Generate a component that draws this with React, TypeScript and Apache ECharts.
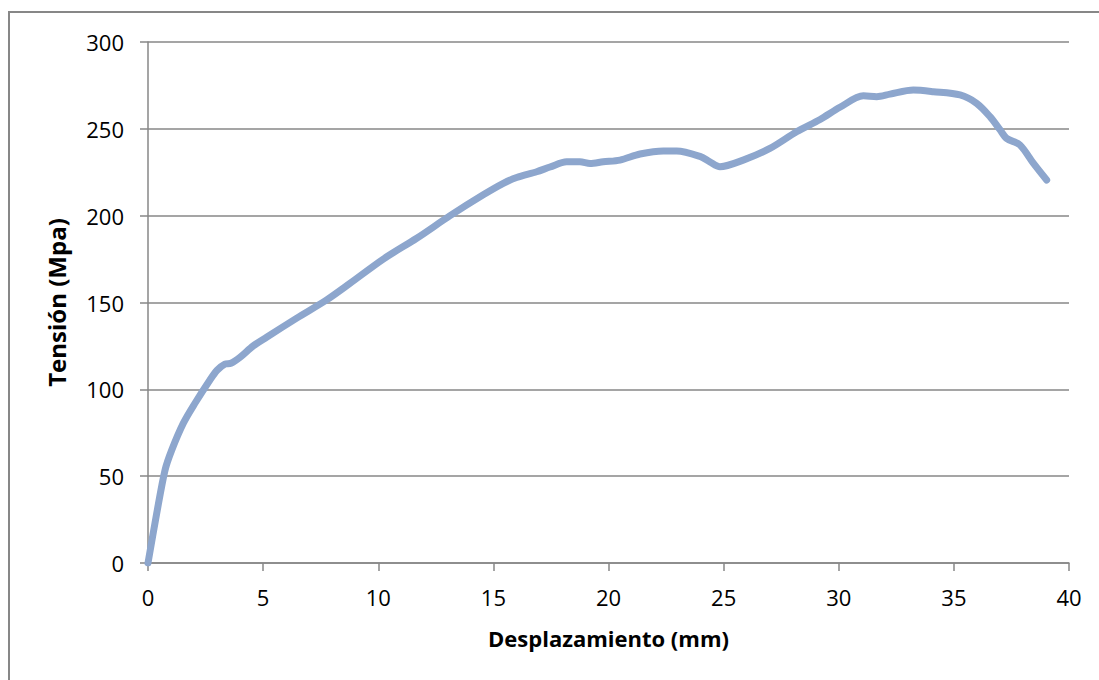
import React, { useEffect, useRef } from "react";
import * as echarts from "echarts";

const displacement = [
  0, 0.38, 0.74, 1.03, 1.53, 2.04, 2.69, 3.0, 3.34, 3.6, 4.0, 4.57, 5.15, 6.46, 7.76, 8.77,
  10.22, 11.67, 13.12, 14.56, 15.43, 16.01, 16.88, 17.46, 18.18, 18.76, 19.2, 19.77, 20.5,
  21.37, 22.38, 22.96, 24.0, 24.4, 24.84, 25.85, 27.01, 28.17, 29.19, 30.05, 31.07, 31.65,
  32.23, 33.24, 34.11, 35.27, 35.99, 36.57, 37.0, 37.29, 37.87, 38.45, 39.03,
];
const stress = [
  0, 28.7, 53.5, 65, 80.4, 92, 105.4, 111, 114.5, 115, 118.5, 125, 130, 141, 151.5, 161,
  175, 187, 200, 212, 218.6, 222, 225.3, 228, 231, 231, 230, 231, 232,
  235.5, 237.3, 237.3, 234, 231, 228.2, 232, 238.7, 248.3, 255.4, 262.4, 269, 268.5,
  270, 272.3, 271.4, 269.5, 264.7, 257, 249.5, 244.5, 240.7, 230.2, 220.5,
];

const xTitle = "Desplazamiento (mm)";
const yTitle = "Tensión (Mpa)";

export default function App() {
  const ref = useRef<HTMLDivElement>(null);
  useEffect(() => {
    if (!ref.current) return;
    const chart = echarts.init(ref.current, null, { renderer: "svg" });
    const gray = "#878787";
    const font = "Open Sans";
    chart.setOption({
      animation: false,
      backgroundColor: "#ffffff",
      graphic: [
        {
          type: "rect",
          shape: { x: 9, y: 12, width: 1200, height: 1000 },
          style: { fill: "none", stroke: gray, lineWidth: 2 },
          silent: true,
        },
      ],
      grid: { left: 148, right: 30, top: 42, bottom: 117 },
      xAxis: {
        type: "value",
        min: 0,
        max: 40,
        interval: 5,
        name: xTitle,
        nameLocation: "middle",
        nameGap: 64,
        nameTextStyle: { fontFamily: font, fontWeight: "bold", fontSize: 22, color: "#000" },
        axisLine: { show: true, lineStyle: { color: gray, width: 1.5 } },
        axisTick: { show: true, length: 8, lineStyle: { color: gray, width: 1.5 } },
        axisLabel: { fontFamily: font, fontSize: 22, color: "#000", margin: 23 },
        splitLine: { show: false },
      },
      yAxis: {
        type: "value",
        min: 0,
        max: 300,
        interval: 50,
        name: yTitle,
        nameLocation: "middle",
        nameGap: 80,
        nameRotate: 90,
        nameTextStyle: { fontFamily: font, fontWeight: "bold", fontSize: 24, color: "#000" },
        axisLine: { show: true, lineStyle: { color: gray, width: 1.5 } },
        axisTick: { show: true, length: 8, lineStyle: { color: gray, width: 1.5 } },
        axisLabel: { fontFamily: font, fontSize: 22, color: "#000", margin: 24 },
        splitLine: { show: true, lineStyle: { color: gray, width: 1.5 } },
      },
      series: [
        {
          type: "line",
          data: displacement.map((d, i) => [d, stress[i]]),
          showSymbol: false,
          smooth: 0.3,
          lineStyle: { color: "#8DA6CD", width: 7, cap: "round", join: "round" },
          itemStyle: { color: "#8DA6CD" },
        },
      ],
    });
    return () => chart.dispose();
  }, []);
  return (
    <div
      ref={ref}
      style={{ position: "fixed", left: 0, top: 0, width: 1099, height: 680 }}
    />
  );
}
